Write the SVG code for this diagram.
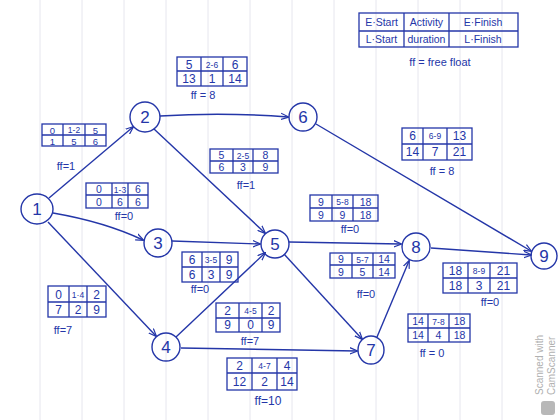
<svg xmlns="http://www.w3.org/2000/svg" width="560" height="420" viewBox="0 0 560 420">
<defs>
<style>
.ink{stroke:#2436a8;fill:none;stroke-width:1.4}
.cell{stroke:#2436a8;fill:none;stroke-width:1.3}
.t{font-family:"Liberation Sans",Arial,sans-serif;fill:#2436a8;font-size:12px;text-anchor:middle}
.m{font-size:10.5px}
.x{font-size:9.5px}
.s{font-size:8.5px}
.nl{font-family:"Liberation Sans",Arial,sans-serif;fill:#2436a8;font-size:17px;text-anchor:middle}
.ff{font-family:"Liberation Sans",Arial,sans-serif;fill:#2436a8;font-size:11px;text-anchor:middle}
.grid{stroke:#e6e6ee;stroke-width:1}
</style>
<marker id="ah" viewBox="0 0 10 10" refX="9" refY="5" markerWidth="8" markerHeight="8" orient="auto" markerUnits="userSpaceOnUse">
<path d="M0,1 L10,5 L0,9" fill="none" stroke="#2436a8" stroke-width="1.5"/>
</marker>
</defs>
<rect width="560" height="420" fill="#ffffff"/>
<g id="paper">
<line class="grid" x1="40" y1="0" x2="40" y2="420"/>
<line class="grid" x1="82" y1="0" x2="82" y2="420"/>
<line class="grid" x1="124" y1="0" x2="124" y2="420"/>
<line class="grid" x1="166" y1="0" x2="166" y2="420"/>
<line class="grid" x1="208" y1="0" x2="208" y2="420"/>
<line class="grid" x1="250" y1="0" x2="250" y2="420"/>
<line class="grid" x1="292" y1="0" x2="292" y2="420"/>
<line class="grid" x1="334" y1="0" x2="334" y2="420"/>
<line class="grid" x1="376" y1="0" x2="376" y2="420"/>
<line class="grid" x1="418" y1="0" x2="418" y2="420"/>
<line class="grid" x1="460" y1="0" x2="460" y2="420"/>
<line class="grid" x1="502" y1="0" x2="502" y2="420"/>
</g>

<g id="connectors">
<line class="ink" x1="49" y1="198" x2="133" y2="127" marker-end="url(#ah)"/>
<path class="ink" d="M53,213 Q105,222 143,240" marker-end="url(#ah)"/>
<line class="ink" x1="48" y1="222" x2="156" y2="336" marker-end="url(#ah)"/>
<path class="ink" d="M160,116 Q225,112 288,117" marker-end="url(#ah)"/>
<line class="ink" x1="154" y1="129" x2="265" y2="233" marker-end="url(#ah)"/>
<line class="ink" x1="172" y1="241" x2="260" y2="244" marker-end="url(#ah)"/>
<line class="ink" x1="176" y1="337" x2="265" y2="253" marker-end="url(#ah)"/>
<line class="ink" x1="181" y1="348" x2="357" y2="351" marker-end="url(#ah)"/>
<line class="ink" x1="289" y1="242" x2="401" y2="244" marker-end="url(#ah)"/>
<line class="ink" x1="284" y1="254" x2="362" y2="339" marker-end="url(#ah)"/>
<line class="ink" x1="316" y1="124" x2="531" y2="251" marker-end="url(#ah)"/>
<line class="ink" x1="431" y1="248" x2="531" y2="255" marker-end="url(#ah)"/>
<line class="ink" x1="377" y1="337" x2="409" y2="261" marker-end="url(#ah)"/>
</g>

<g id="node1"><ellipse class="ink" cx="37" cy="209" rx="16" ry="15"/><text class="nl" x="37" y="215">1</text></g>
<g id="node2"><ellipse class="ink" cx="145" cy="117" rx="15" ry="15"/><text class="nl" x="145" y="123">2</text></g>
<g id="node3"><ellipse class="ink" cx="158" cy="243" rx="14" ry="14"/><text class="nl" x="158" y="249">3</text></g>
<g id="node4"><ellipse class="ink" cx="166" cy="347" rx="14" ry="14"/><text class="nl" x="166" y="353">4</text></g>
<g id="node5"><ellipse class="ink" cx="275" cy="244" rx="14" ry="14"/><text class="nl" x="275" y="250">5</text></g>
<g id="node6"><ellipse class="ink" cx="303" cy="117" rx="14" ry="14"/><text class="nl" x="303" y="123">6</text></g>
<g id="node7"><ellipse class="ink" cx="371" cy="350" rx="13" ry="14"/><text class="nl" x="371" y="356">7</text></g>
<g id="node8"><ellipse class="ink" cx="416" cy="247" rx="14" ry="14"/><text class="nl" x="416" y="253">8</text></g>
<g id="node9"><ellipse class="ink" cx="544" cy="256" rx="13" ry="13"/><text class="nl" x="544" y="262">9</text></g>

<g id="legend">
<rect class="cell" x="359" y="13" width="159" height="34"/>
<line class="cell" x1="359" y1="31" x2="518" y2="31"/>
<line class="cell" x1="404" y1="13" x2="404" y2="47"/>
<line class="cell" x1="449" y1="13" x2="449" y2="47"/>
<text class="t" style="font-size:10.5px" x="381.5" y="26">E·Start</text>
<text class="t" style="font-size:10.5px" x="426.5" y="26">Activity</text>
<text class="t" style="font-size:10.5px" x="483" y="26">E·Finish</text>
<text class="t" style="font-size:10.5px" x="381.5" y="43">L·Start</text>
<text class="t" style="font-size:10.5px" x="426.5" y="43">duration</text>
<text class="t" style="font-size:10.5px" x="483" y="43">L·Finish</text>
<text class="ff" x="440" y="66">ff = free float</text>
</g>

<g id="act12">
<rect class="cell" x="42" y="124" width="64" height="22"/><line class="cell" x1="42" y1="135" x2="106" y2="135"/>
<line class="cell" x1="63" y1="124" x2="63" y2="146"/><line class="cell" x1="85" y1="124" x2="85" y2="146"/>
<text class="t x" x="52.5" y="133.5">0</text><text class="t s" x="74" y="133">1-2</text><text class="t x" x="95.5" y="133.5">5</text>
<text class="t x" x="52.5" y="144.5">1</text><text class="t x" x="74" y="144.5">5</text><text class="t x" x="95.5" y="144.5">6</text>
<text class="ff" x="66" y="170">ff=1</text>
</g>

<g id="act26">
<rect class="cell" x="177" y="57" width="70" height="29"/><line class="cell" x1="177" y1="71" x2="247" y2="71"/>
<line class="cell" x1="201" y1="57" x2="201" y2="86"/><line class="cell" x1="223" y1="57" x2="223" y2="86"/>
<text class="t" x="189" y="68.5">5</text><text class="t s" x="212" y="67.5">2-6</text><text class="t" x="235" y="68.5">6</text>
<text class="t" x="189" y="83">13</text><text class="t" x="212" y="83">1</text><text class="t" x="235" y="83">14</text>
<text class="ff" x="203" y="99">ff = 8</text>
</g>

<g id="act25">
<rect class="cell" x="210" y="149" width="68" height="24"/><line class="cell" x1="210" y1="161" x2="278" y2="161"/>
<line class="cell" x1="233" y1="149" x2="233" y2="173"/><line class="cell" x1="253" y1="149" x2="253" y2="173"/>
<text class="t m" x="221.5" y="159">5</text><text class="t s" x="243" y="158.5">2-5</text><text class="t m" x="265.5" y="159">8</text>
<text class="t m" x="221.5" y="171">6</text><text class="t m" x="243" y="171">3</text><text class="t m" x="265.5" y="171">9</text>
<text class="ff" x="246" y="189">ff=1</text>
</g>

<g id="act13">
<rect class="cell" x="86" y="183" width="62" height="25"/><line class="cell" x1="86" y1="195" x2="148" y2="195"/>
<line class="cell" x1="112" y1="183" x2="112" y2="208"/><line class="cell" x1="128" y1="183" x2="128" y2="208"/>
<text class="t m" x="99" y="193">0</text><text class="t s" x="120" y="192.5">1-3</text><text class="t m" x="138" y="193">6</text>
<text class="t m" x="99" y="205.5">0</text><text class="t m" x="120" y="205.5">6</text><text class="t m" x="138" y="205.5">6</text>
<text class="ff" x="124" y="220">ff=0</text>
</g>

<g id="act69">
<rect class="cell" x="402" y="128" width="70" height="32"/><line class="cell" x1="402" y1="144" x2="472" y2="144"/>
<line class="cell" x1="423" y1="128" x2="423" y2="160"/><line class="cell" x1="447" y1="128" x2="447" y2="160"/>
<text class="t" x="412.5" y="140">6</text><text class="t s" x="435" y="138.5">6-9</text><text class="t" x="459.5" y="140">13</text>
<text class="t" x="412.5" y="156">14</text><text class="t" x="435" y="156">7</text><text class="t" x="459.5" y="156">21</text>
<text class="ff" x="442" y="175">ff = 8</text>
</g>

<g id="act58">
<rect class="cell" x="310" y="195" width="68" height="26"/><line class="cell" x1="310" y1="208" x2="378" y2="208"/>
<line class="cell" x1="332" y1="195" x2="332" y2="221"/><line class="cell" x1="353" y1="195" x2="353" y2="221"/>
<text class="t m" x="321" y="205.5">9</text><text class="t s" x="342.5" y="205">5-8</text><text class="t m" x="365.5" y="205.5">18</text>
<text class="t m" x="321" y="218.5">9</text><text class="t m" x="342.5" y="218.5">9</text><text class="t m" x="365.5" y="218.5">18</text>
<text class="ff" x="350" y="233">ff=0</text>
</g>

<g id="act35">
<rect class="cell" x="182" y="252" width="56" height="30"/><line class="cell" x1="182" y1="267" x2="238" y2="267"/>
<line class="cell" x1="202" y1="252" x2="202" y2="282"/><line class="cell" x1="220" y1="252" x2="220" y2="282"/>
<text class="t" x="192" y="264">6</text><text class="t s" x="211" y="263">3-5</text><text class="t" x="229" y="264">9</text>
<text class="t" x="192" y="279">6</text><text class="t" x="211" y="279">3</text><text class="t" x="229" y="279">9</text>
<text class="ff" x="200" y="293">ff=0</text>
</g>

<g id="act57">
<rect class="cell" x="330" y="253" width="65" height="25"/><line class="cell" x1="330" y1="265" x2="395" y2="265"/>
<line class="cell" x1="352" y1="253" x2="352" y2="278"/><line class="cell" x1="373" y1="253" x2="373" y2="278"/>
<text class="t m" x="341" y="263">9</text><text class="t s" x="362.5" y="262.5">5-7</text><text class="t m" x="384" y="263">14</text>
<text class="t m" x="341" y="275.5">9</text><text class="t m" x="362.5" y="275.5">5</text><text class="t m" x="384" y="275.5">14</text>
<text class="ff" x="366" y="298">ff=0</text>
</g>

<g id="act89">
<rect class="cell" x="443" y="263" width="74" height="30"/><line class="cell" x1="443" y1="278" x2="517" y2="278"/>
<line class="cell" x1="468" y1="263" x2="468" y2="293"/><line class="cell" x1="490" y1="263" x2="490" y2="293"/>
<text class="t" x="455.5" y="275">18</text><text class="t s" x="479" y="274">8-9</text><text class="t" x="503.5" y="275">21</text>
<text class="t" x="455.5" y="290">18</text><text class="t" x="479" y="290">3</text><text class="t" x="503.5" y="290">21</text>
<text class="ff" x="490" y="306">ff=0</text>
</g>

<g id="act78">
<rect class="cell" x="408" y="314" width="62" height="28"/><line class="cell" x1="408" y1="328" x2="470" y2="328"/>
<line class="cell" x1="428" y1="314" x2="428" y2="342"/><line class="cell" x1="449" y1="314" x2="449" y2="342"/>
<text class="t m" x="418" y="325">14</text><text class="t s" x="438.5" y="324.5">7-8</text><text class="t m" x="459.5" y="325">18</text>
<text class="t m" x="418" y="339">14</text><text class="t m" x="438.5" y="339">4</text><text class="t m" x="459.5" y="339">18</text>
<text class="ff" x="432" y="357">ff = 0</text>
</g>

<g id="act14">
<rect class="cell" x="48" y="286" width="58" height="31"/><line class="cell" x1="48" y1="302" x2="106" y2="302"/>
<line class="cell" x1="69" y1="286" x2="69" y2="317"/><line class="cell" x1="87" y1="286" x2="87" y2="317"/>
<text class="t" x="58.5" y="299">0</text><text class="t s" x="78" y="298">1·4</text><text class="t" x="96.5" y="299">2</text>
<text class="t" x="58.5" y="314">7</text><text class="t" x="78" y="314">2</text><text class="t" x="96.5" y="314">9</text>
<text class="ff" x="63" y="334">ff=7</text>
</g>

<g id="act45">
<rect class="cell" x="216" y="303" width="64" height="29"/><line class="cell" x1="216" y1="318" x2="280" y2="318"/>
<line class="cell" x1="239" y1="303" x2="239" y2="332"/><line class="cell" x1="262" y1="303" x2="262" y2="332"/>
<text class="t" x="227.5" y="315">2</text><text class="t s" x="250.5" y="314">4-5</text><text class="t" x="271" y="315">2</text>
<text class="t" x="227.5" y="329">9</text><text class="t" x="250.5" y="329">0</text><text class="t" x="271" y="329">9</text>
<text class="ff" x="250" y="345">ff=7</text>
</g>

<g id="act47">
<rect class="cell" x="227" y="358" width="70" height="32"/><line class="cell" x1="227" y1="373" x2="297" y2="373"/>
<line class="cell" x1="252" y1="358" x2="252" y2="390"/><line class="cell" x1="277" y1="358" x2="277" y2="390"/>
<text class="t" x="239.5" y="370">2</text><text class="t s" x="264.5" y="369">4-7</text><text class="t" x="287" y="370">4</text>
<text class="t" x="239.5" y="386">12</text><text class="t" x="264.5" y="386">2</text><text class="t" x="287" y="386">14</text>
<text class="ff" style="font-size:12px" x="268" y="405">ff=10</text>
</g>

<g id="watermark">
<text x="543" y="395" transform="rotate(-90 543 395)" style="font-family:'Liberation Sans',Arial,sans-serif;font-size:10px;fill:#b0b0b0">Scanned with</text>
<text x="555" y="395" transform="rotate(-90 555 395)" style="font-family:'Liberation Sans',Arial,sans-serif;font-size:10px;fill:#b0b0b0">CamScanner</text>
<rect x="541" y="401" width="14" height="14" rx="3" fill="#b8b8b8"/>
</g>
</svg>
